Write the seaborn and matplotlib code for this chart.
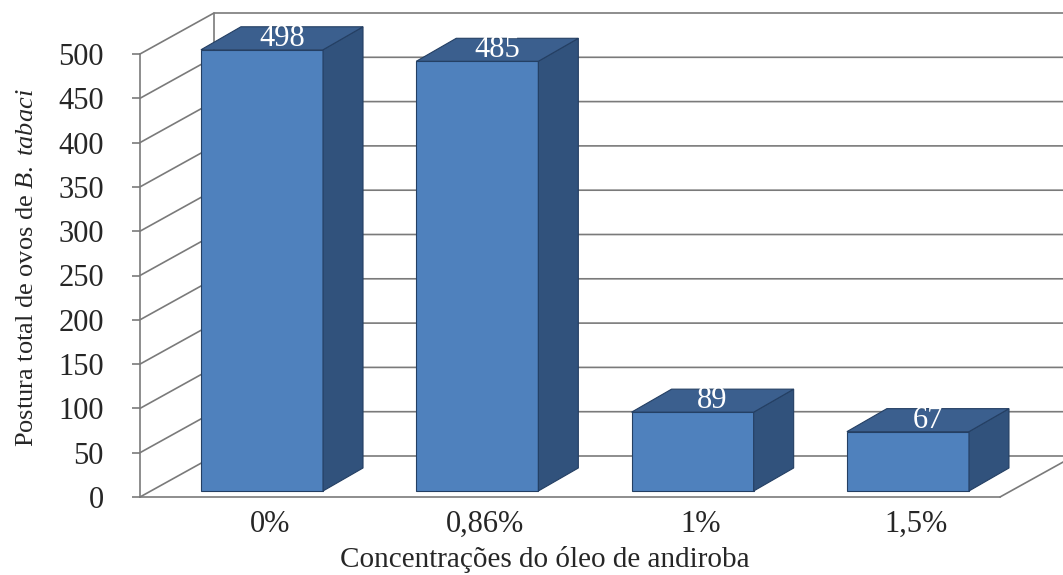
import numpy as np
import seaborn as sns
import matplotlib.pyplot as plt
from matplotlib.patches import Polygon
from matplotlib.transforms import ScaledTranslation

categories = ["0%", "0,86%", "1%", "1,5%"]
values = [498, 485, 89, 67]
yticks = list(range(0, 501, 50))

sns.set_style("white")
plt.rcParams['font.family'] = ['Liberation Serif', 'DejaVu Serif']
plt.rcParams['mathtext.fontset'] = 'custom'
plt.rcParams['mathtext.rm'] = 'Liberation Serif'
plt.rcParams['mathtext.it'] = 'Liberation Serif:italic'

DPI = 100
fig = plt.figure(figsize=(10.63, 5.75), dpi=DPI)
# front plane of the 3D box, in figure pixels: x 140..1000, y 497..54 (from top)
ax = fig.add_axes([140 / 1063, 78 / 575, 860 / 1063, 443 / 575])

front = "#4F81BD"
top_c = "#3B5F8E"
side_c = "#31527C"
edge_c = "#243F63"
grid_c = "#7a7a7a"

sns.barplot(x=categories, y=values, color=front, saturation=1, width=0.567,
            edgecolor=edge_c, linewidth=0.8, ax=ax, zorder=3)

x0, x1 = -0.52, 3.474
ax.set_xlim(x0, x1)
ax.set_ylim(0, 500)

# depth of the wall (px -> data)
px_x = (x1 - x0) / 860
px_y = 500 / 443
wall_dx, wall_dy = 74 * px_x, 41 * px_y
x_edge = x0 + (1063 - 140) * px_x

# walls and gridlines
for v in yticks:
    ax.plot([x0, x0 + wall_dx, x_edge], [v, v + wall_dy, v + wall_dy],
            color=grid_c, lw=1.2, clip_on=False, zorder=0)
ax.plot([x0 + wall_dx, x0 + wall_dx], [wall_dy, 500 + wall_dy],
        color=grid_c, lw=1.2, clip_on=False, zorder=0)
ax.plot([x1, x1 + wall_dx], [0, wall_dy], color=grid_c, lw=1.2,
        clip_on=False, zorder=0)

# bars sit slightly behind the front plane
bar_off = ax.transData + ScaledTranslation(10 / DPI, 6 / DPI, fig.dpi_scale_trans)
bar_dx, bar_dy = 40 * px_x, 23 * px_y
for p, v in zip(ax.patches, values):
    p.set_transform(bar_off)
    p.set_clip_on(False)
    bx, bw, h = p.get_x(), p.get_width(), p.get_height()
    side = Polygon([(bx + bw, 0), (bx + bw + bar_dx, bar_dy),
                    (bx + bw + bar_dx, h + bar_dy), (bx + bw, h)],
                   closed=True, facecolor=side_c, edgecolor=edge_c, lw=0.8,
                   transform=bar_off, zorder=3, clip_on=False)
    top = Polygon([(bx, h), (bx + bar_dx, h + bar_dy),
                   (bx + bw + bar_dx, h + bar_dy), (bx + bw, h)],
                  closed=True, facecolor=top_c, edgecolor=edge_c, lw=0.8,
                  transform=bar_off, zorder=3, clip_on=False)
    ax.add_patch(side)
    ax.add_patch(top)
    ax.text(bx + bw / 2 + bar_dx / 2, h + bar_dy / 2, str(v), color="white",
            fontsize=22, ha="center", va="center", transform=bar_off,
            zorder=5, clip_on=False)

for s in ["top", "right"]:
    ax.spines[s].set_visible(False)
for s in ["left", "bottom"]:
    ax.spines[s].set_color(grid_c)
    ax.spines[s].set_linewidth(1.2)

ax.set_yticks(yticks)
ax.tick_params(axis="y", direction="out", length=6, width=1.2, color=grid_c,
               labelsize=22, pad=20, left=True)
ax.tick_params(axis="x", length=0, labelsize=22, pad=9)
for lab in ax.get_xticklabels():
    lab.set_transform(lab.get_transform() + ScaledTranslation(18 / DPI, 0, fig.dpi_scale_trans))

ax.set_xlabel("Concentrações do óleo de andiroba", fontsize=21)
ax.xaxis.set_label_coords((545 - 140) / 860, (497 - 546) / 443)
ax.set_ylabel(r"Postura total de ovos de $\it{B.\ tabaci}$", fontsize=19)
ax.yaxis.set_label_coords((38 - 140) / 860, (497 - 268) / 443)

fig.savefig("out.png", dpi=DPI)
